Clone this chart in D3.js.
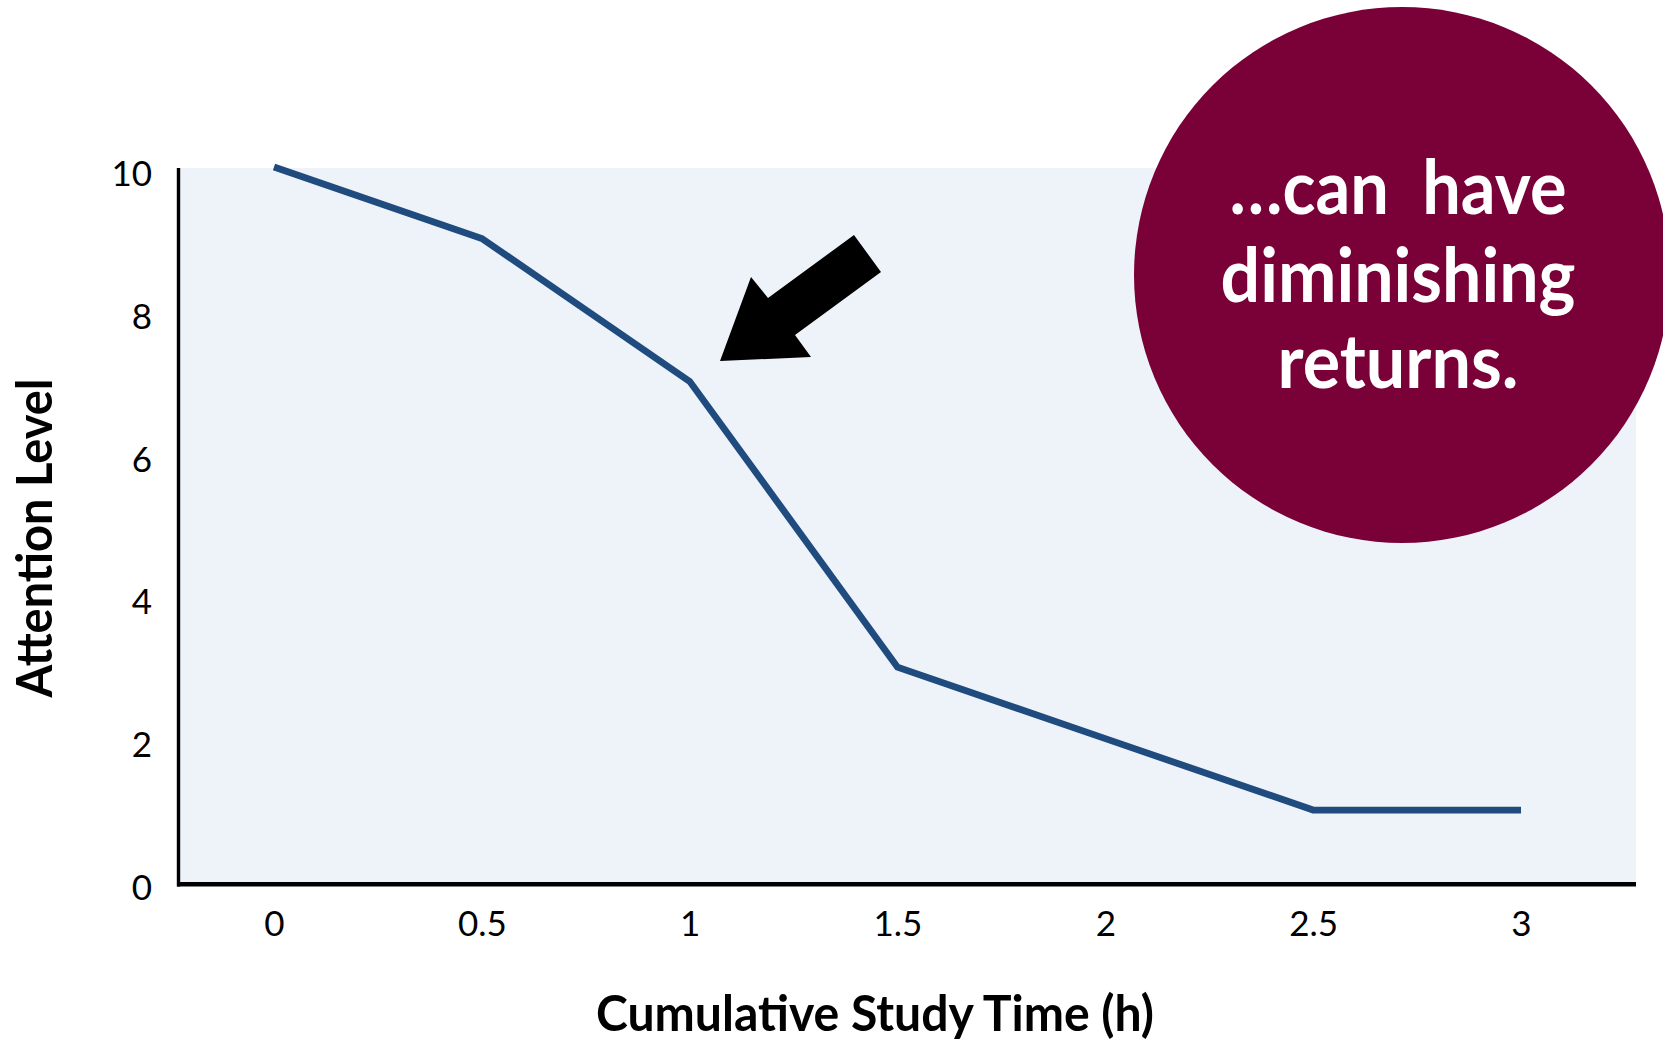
<!DOCTYPE html>
<html>
<head>
<meta charset="utf-8">
<script src="https://cdn.jsdelivr.net/npm/d3@7"></script>
<style>
  html, body { margin: 0; padding: 0; background: #ffffff; }
  svg { display: block; }
  text { font-family: Lato, "Open Sans", "DejaVu Sans", sans-serif; }
</style>
</head>
<body>
<svg id="chart" width="1663" height="1042"></svg>
<script>
// Attention level over cumulative study time
const studyHours = [0, 0.5, 1, 1.5, 2, 2.5, 3];
const attention  = [10, 9, 7, 3, 2, 1, 1];
const xTickLabels = ["0", "0.5", "1", "1.5", "2", "2.5", "3"];
const yTicks = [0, 2, 4, 6, 8, 10];
const calloutLines = ["\u2026can\u00a0 have", "diminishing", "returns."];

const svg = d3.select("#chart");

const plot = { left: 178, right: 1636, top: 168, bottom: 884 };

const x = d3.scaleLinear().domain([0, 3]).range([274, 1521]);
const y = d3.scaleLinear().domain([0, 10]).range([881.5, 167]);

// plot area background
svg.append("rect")
  .attr("x", plot.left).attr("y", plot.top)
  .attr("width", plot.right - plot.left)
  .attr("height", plot.bottom - plot.top)
  .attr("fill", "#EEF3FA");

// y axis: labels only, plus the vertical axis line
const yAxis = d3.axisLeft(y).tickValues(yTicks).tickSize(0).tickPadding(0)
  .tickFormat(d3.format("d"));
const gy = svg.append("g").attr("transform", "translate(152,7)").call(yAxis);
gy.select(".domain").remove();
gy.selectAll("text")
  .attr("font-family", "Lato, 'Open Sans', sans-serif")
  .attr("font-size", 35).attr("fill", "#000").attr("dy", "0.32em")
  .attr("text-anchor", "end");

// x axis labels
const xAxis = d3.axisBottom(x).tickValues(studyHours).tickSize(0).tickPadding(0)
  .tickFormat((d, i) => xTickLabels[i]);
const gx = svg.append("g").attr("transform", "translate(0,908)").call(xAxis);
gx.select(".domain").remove();
gx.selectAll("text")
  .attr("font-family", "Lato, 'Open Sans', sans-serif")
  .attr("font-size", 35).attr("fill", "#000").attr("dy", "0.8em");

// axis lines
svg.append("line")
  .attr("x1", 178.5).attr("x2", 178.5).attr("y1", plot.top).attr("y2", 886.5)
  .attr("stroke", "#000").attr("stroke-width", 3.4);
svg.append("line")
  .attr("x1", 177).attr("x2", plot.right).attr("y1", 884.2).attr("y2", 884.2)
  .attr("stroke", "#000").attr("stroke-width", 4.6);

// data line
const line = d3.line().x((d, i) => x(studyHours[i])).y(d => y(d));
svg.append("path")
  .datum(attention)
  .attr("d", line)
  .attr("fill", "none")
  .attr("stroke", "#1F4B7E")
  .attr("stroke-width", 6.8)
  .attr("stroke-linejoin", "miter")
  .attr("stroke-linecap", "butt");

// pointer arrow towards the steep drop
svg.append("polygon")
  .attr("points", [[720, 361], [751, 277], [768, 298], [854, 235], [881, 272], [795, 335], [811, 357]]
    .map(p => p.join(",")).join(" "))
  .attr("fill", "#000");

// callout bubble
svg.append("circle")
  .attr("cx", 1402).attr("cy", 275).attr("r", 268)
  .attr("fill", "#7A0038");

const callout = svg.append("text")
  .attr("text-anchor", "middle")
  .attr("font-weight", "bold")
  .attr("font-size", 74)
  .attr("fill", "#ffffff");
const lineWidths = [337, 355, 241];
const lineBaselines = [214, 302, 388];
calloutLines.forEach((t, i) => {
  callout.append("tspan")
    .attr("x", 1398).attr("y", lineBaselines[i])
    .attr("textLength", lineWidths[i])
    .attr("lengthAdjust", "spacingAndGlyphs")
    .text(t);
});

// axis titles
svg.append("text")
  .attr("x", 875).attr("y", 1031)
  .attr("text-anchor", "middle")
  .attr("font-weight", "bold").attr("font-size", 50)
  .attr("textLength", 558).attr("lengthAdjust", "spacingAndGlyphs")
  .attr("fill", "#000")
  .text("Cumulative Study Time (h)");

svg.append("text")
  .attr("transform", "translate(52,538) rotate(-90)")
  .attr("text-anchor", "middle")
  .attr("font-weight", "bold").attr("font-size", 50)
  .attr("textLength", 319).attr("lengthAdjust", "spacingAndGlyphs")
  .attr("fill", "#000")
  .text("Attention Level");
</script>
</body>
</html>
